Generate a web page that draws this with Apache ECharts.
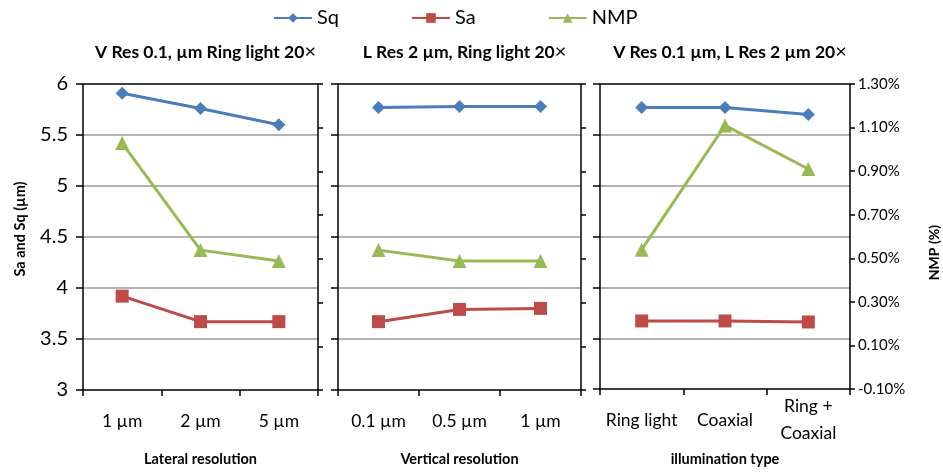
<!DOCTYPE html>
<html>
<head>
<meta charset="utf-8">
<script src="https://cdn.jsdelivr.net/npm/echarts@6/dist/echarts.min.js"></script>
<style>html,body{margin:0;padding:0;background:#fff}#c{width:943px;height:472px}</style>
</head>
<body>
<div id="c"></div>
<script>
// ---- data ----
const panelTitles = ['V Res 0.1, µm Ring light 20', 'L Res 2 µm, Ring light 20', 'V Res 0.1 µm, L Res 2 µm 20'];
const xTitles = ['Lateral resolution', 'Vertical resolution', 'illumination type'];
const categories1 = ['1 µm', '2 µm', '5 µm'];
const categories2 = ['0.1 µm', '0.5 µm', '1 µm'];
const categories3 = ['Ring light', 'Coaxial', 'Ring +\nCoaxial'];
const sq1 = [5.91, 5.76, 5.60];
const sa1 = [3.92, 3.67, 3.67];
const nmp1 = [1.03, 0.54, 0.49];
const sq2 = [5.77, 5.78, 5.78];
const sa2 = [3.67, 3.79, 3.80];
const nmp2 = [0.54, 0.49, 0.49];
const sq3 = [5.77, 5.77, 5.70];
const sa3 = [3.67, 3.67, 3.66];
const nmp3 = [0.54, 1.11, 0.91];
const leftTicks = {min: 3, max: 6, interval: 0.5};
const rightTicks = {min: -0.1, max: 1.3, interval: 0.2};

const FONT = 'Lato, "Open Sans", sans-serif';
const colors = {Sq: '#4a7ebb', Sa: '#be4b48', NMP: '#98b954'};
const grids = [
  {left: 83, width: 235},
  {left: 338, width: 243},
  {left: 600, width: 250}
];
const cats = [categories1, categories2, categories3];
const sqs = [sq1, sq2, sq3], sas = [sa1, sa2, sa3], nmps = [nmp1, nmp2, nmp3];

const bottomX = grids.map((g, i) => ({
  type: 'category', gridIndex: i, data: cats[i], boundaryGap: true, position: 'bottom',
  name: xTitles[i], nameLocation: 'middle', nameGap: 62,
  nameTextStyle: {fontSize: 14.5, fontWeight: 'bold', color: '#000', fontFamily: FONT},
  axisLine: {onZero: false, lineStyle: {color: '#000', width: 1.5}},
  axisTick: {show: true, length: 6, alignWithLabel: false, lineStyle: {color: '#000', width: 1.5}},
  axisLabel: {fontSize: 17.5, color: '#000', margin: 31, verticalAlign: 'middle', lineHeight: 27, interval: 0, fontFamily: FONT}
}));
const topX = grids.map((g, i) => ({
  type: 'category', gridIndex: i, position: 'top', data: cats[i],
  axisLine: {onZero: false, lineStyle: {color: '#000', width: 1.5}},
  axisTick: {show: false}, axisLabel: {show: false}
}));

const yAxes = [];
grids.forEach((g, i) => {
  yAxes.push({
    type: 'value', gridIndex: i, position: 'left', ...leftTicks,
    name: i === 0 ? 'Sa and Sq (µm)' : '', nameLocation: 'middle', nameGap: 55,
    nameTextStyle: {fontSize: 14.5, fontWeight: 'bold', color: '#000', fontFamily: FONT, padding: [0, 0, 0, 16]},
    axisLine: {show: true, onZero: false, lineStyle: {color: '#000', width: 1.5}},
    axisTick: {show: true, length: 7, lineStyle: {color: '#000', width: 1.5}},
    axisLabel: {show: i === 0, fontSize: 20, color: '#000', margin: 15, fontFamily: FONT},
    splitLine: {show: true, showMinLine: false, showMaxLine: false, lineStyle: {color: '#9a9a9a', width: 1.5}}
  });
  yAxes.push({
    type: 'value', gridIndex: i, position: 'right', ...rightTicks,
    name: i === 2 ? 'NMP (%)' : '', nameLocation: 'middle', nameGap: 77, nameRotate: 90,
    nameTextStyle: {fontSize: 14, fontWeight: 'bold', color: '#000', fontFamily: FONT, padding: [0, 32, 0, 0]},
    axisLine: {show: true, onZero: false, lineStyle: {color: '#000', width: 1.5}},
    axisTick: {show: true, length: 5, lineStyle: {color: '#000', width: 1.5}},
    axisLabel: {show: i === 2, fontSize: 15, color: '#000', margin: 8, fontFamily: FONT,
      formatter: v => v.toFixed(2) + '%'},
    splitLine: {show: false}
  });
});

const series = [];
grids.forEach((g, i) => {
  series.push({name: 'Sq', type: 'line', xAxisIndex: i, yAxisIndex: 2 * i, data: sqs[i],
    symbol: 'diamond', symbolSize: 13, lineStyle: {width: 3, color: colors.Sq},
    itemStyle: {color: colors.Sq}});
  series.push({name: 'Sa', type: 'line', xAxisIndex: i, yAxisIndex: 2 * i, data: sas[i],
    symbol: 'rect', symbolSize: 13, lineStyle: {width: 3, color: colors.Sa},
    itemStyle: {color: colors.Sa}});
  series.push({name: 'NMP', type: 'line', xAxisIndex: i, yAxisIndex: 2 * i + 1, data: nmps[i],
    symbol: 'triangle', symbolSize: 14, lineStyle: {width: 3, color: colors.NMP},
    itemStyle: {color: colors.NMP}});
});

const option = {
  animation: false,
  backgroundColor: '#fff',
  textStyle: {fontFamily: FONT},
  legend: {
    top: 3, left: 268, itemGap: 72, itemWidth: 38, itemHeight: 12,
    data: ['Sq', 'Sa', 'NMP'],
    textStyle: {fontSize: 20, color: '#000', fontFamily: FONT}
  },
  title: grids.map((g, i) => ({
    text: '{b|' + panelTitles[i] + '}{x|×}',
    left: g.left + g.width / 2, top: 37, textAlign: 'center',
    textStyle: {rich: {
      b: {fontSize: 17.5, fontWeight: 'bold', color: '#000', fontFamily: FONT},
      x: {fontSize: 20, fontWeight: 'normal', color: '#000', fontFamily: FONT}
    }}
  })),
  grid: grids.map(g => ({left: g.left, width: g.width, top: 84, height: 312, containLabel: false})),
  xAxis: bottomX.concat(topX),
  yAxis: yAxes,
  series: series
};
const chart = echarts.init(document.getElementById('c'), null, {renderer: 'canvas'});
chart.setOption(option);
</script>
</body>
</html>
